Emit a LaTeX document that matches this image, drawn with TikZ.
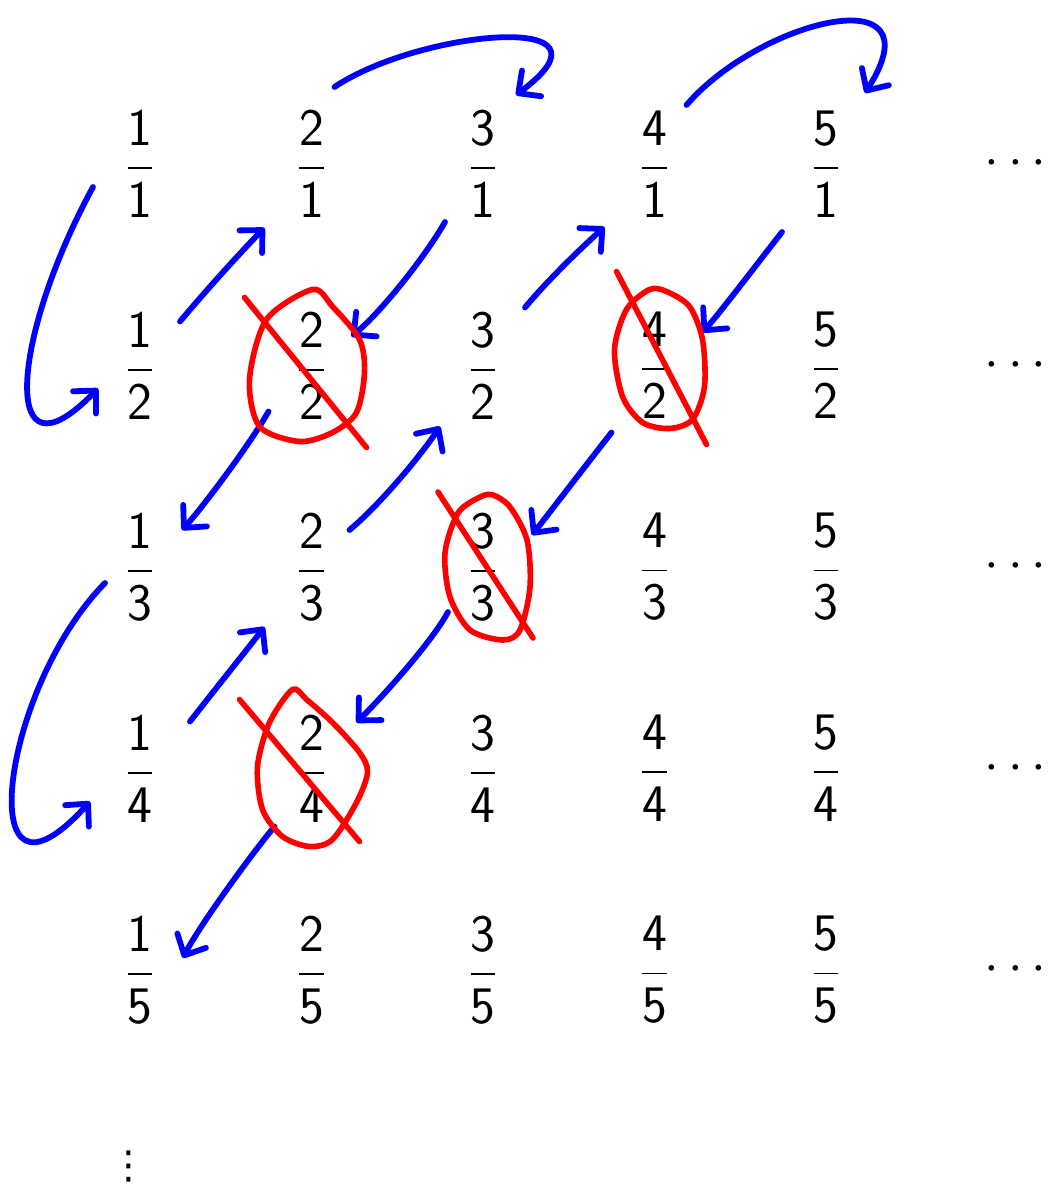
\RequirePackage{fix-cm}
\documentclass[tikz,border=0pt]{standalone}
\usepackage{amsmath}
\usepackage{fontspec}
\newfontfamily\dejavu{DejaVu Sans}
\usetikzlibrary{arrows.meta}
\begin{document}
\begin{tikzpicture}[x=1cm,y=1cm,line cap=round,line join=round,
  every node/.style={font=\fontsize{30}{36}\selectfont,inner sep=0pt},
  walk/.style={blue,line width=3.3pt,
    -{Straight Barb[length=3.3mm,width=6.4mm,round]}},
  strike/.style={red,line width=3.2pt}]
  \useasboundingbox (0,0) rectangle (21.12,-23.68);
  % the table of fractions p/q, with the rows running on to the right
  \foreach \p in {1,...,5}
    \foreach \q in {1,...,5}
      \node (f\p\q) at ({2.80+3.43*(\p-1)},{-3.28-4.03*(\q-1)})
        {$\dfrac{\mathsf{\p}}{\mathsf{\q}}$};
  \foreach \q in {1,...,5}
    \node (row\q) at (20.40,{-3.28-4.03*(\q-1)}) {$\cdots$};
  \node[font=\dejavu\fontsize{22}{22}\selectfont] (more) at (2.58,-23.33) {⋮};
  % the zig-zag walk through the table
  \draw[walk] ([shift={(-0.94,-0.46)}]f11.center)
    .. controls +(-1.66,-3.06) and +(-1.96,-2.02) .. ([shift={(-0.84,-0.46)}]f12.center);
  \draw[walk] ([shift={(0.80,0.88)}]f12.center)
    .. controls +(0.5,0.6) and +(-0.4,-0.4) .. ([shift={(-0.94,-1.28)}]f21.center);
  \draw[walk] ([shift={(0.46,1.54)}]f21.center)
    .. controls +(1.70,1.14) and +(2.28,1.70) .. ([shift={(0.66,1.38)}]f31.center);
  \draw[walk] ([shift={(-0.76,-1.16)}]f31.center)
    .. controls +(-0.4,-0.7) and +(0.6,0.5) .. ([shift={(0.80,0.58)}]f22.center);
  \draw[walk] ([shift={(-0.86,-0.92)}]f22.center)
    .. controls +(-0.4,-0.7) and +(0.4,0.44) .. ([shift={(0.84,0.74)}]f13.center);
  \draw[walk] ([shift={(-0.70,-0.32)}]f13.center)
    .. controls +(-2.10,-2.14) and +(-2.40,-2.66) .. ([shift={(-1.00,-0.66)}]f14.center);
  \draw[walk] ([shift={(1.00,0.94)}]f14.center)
    .. controls +(0.5,0.64) and +(-0.5,-0.64) .. ([shift={(-0.94,-1.20)}]f23.center);
  \draw[walk] ([shift={(0.76,0.74)}]f23.center)
    .. controls +(0.6,0.5) and +(-0.4,-0.6) .. ([shift={(-0.86,-1.22)}]f32.center);
  \draw[walk] ([shift={(0.84,1.16)}]f32.center)
    .. controls +(0.5,0.6) and +(-0.4,-0.36) .. ([shift={(-1.00,-1.26)}]f41.center);
  \draw[walk] ([shift={(0.64,1.18)}]f41.center)
    .. controls +(1.46,1.70) and +(1.50,2.36) .. ([shift={(0.78,1.42)}]f51.center);
  \draw[walk] ([shift={(-0.88,-1.36)}]f51.center)
    .. controls +(-0.5,-0.64) and +(0.4,0.46) .. ([shift={(0.96,0.66)}]f42.center);
  \draw[walk] ([shift={(-0.86,-1.34)}]f42.center)
    .. controls +(-0.5,-0.64) and +(0.5,0.64) .. ([shift={(0.98,0.64)}]f33.center);
  \draw[walk] ([shift={(-0.70,-0.90)}]f33.center)
    .. controls +(-0.3,-0.56) and +(0.6,0.6) .. ([shift={(0.90,0.92)}]f24.center);
  \draw[walk] ([shift={(-0.74,-1.16)}]f24.center)
    .. controls +(-0.5,-0.6) and +(0.3,0.6) .. ([shift={(0.86,0.24)}]f15.center);
  % fractions already met, ringed and struck out
  \begin{scope}[shift={(f22)}]
    \draw[strike] plot[smooth cycle] coordinates {(0.02,1.52) (-0.90,0.92)
      (-1.24,-0.28) (-1.04,-1.22) (-0.24,-1.52) (0.42,-1.34) (0.90,-0.94)
      (1.06,-0.14) (0.96,0.52) (0.42,1.18)};
    \draw[strike] (-1.34,1.36) -- (1.10,-1.64);
  \end{scope}
  \begin{scope}[shift={(f42)}]
    \draw[strike] plot[smooth cycle] coordinates {(-0.10,1.52) (-0.56,1.12)
      (-0.80,0.32) (-0.64,-0.62) (-0.24,-1.14) (0.30,-1.26) (0.76,-1.08)
      (1.00,-0.42) (0.96,0.52) (0.70,1.18) (0.24,1.48)};
    \draw[strike] (-0.76,1.88) -- (1.04,-1.58);
  \end{scope}
  \begin{scope}[shift={(f33)}]
    \draw[strike] plot[smooth cycle] coordinates {(-0.06,1.40) (-0.50,1.08)
      (-0.76,0.28) (-0.66,-0.60) (-0.26,-1.26) (0.40,-1.46) (0.74,-1.26)
      (0.94,-0.40) (0.88,0.54) (0.54,1.20) (0.20,1.44)};
    \draw[strike] (-0.90,1.50) -- (1.00,-1.42);
  \end{scope}
  \begin{scope}[shift={(f24)}]
    \draw[strike] plot[smooth cycle] coordinates {(-0.38,1.58) (-0.84,0.92)
      (-1.08,0.04) (-0.98,-0.82) (-0.58,-1.36) (-0.04,-1.56) (0.42,-1.42)
      (0.90,-0.68) (1.12,-0.08) (0.96,0.32) (0.42,0.92) (-0.10,1.38)};
    \draw[strike] (-1.44,1.38) -- (0.96,-1.46);
  \end{scope}
\end{tikzpicture}
\end{document}
